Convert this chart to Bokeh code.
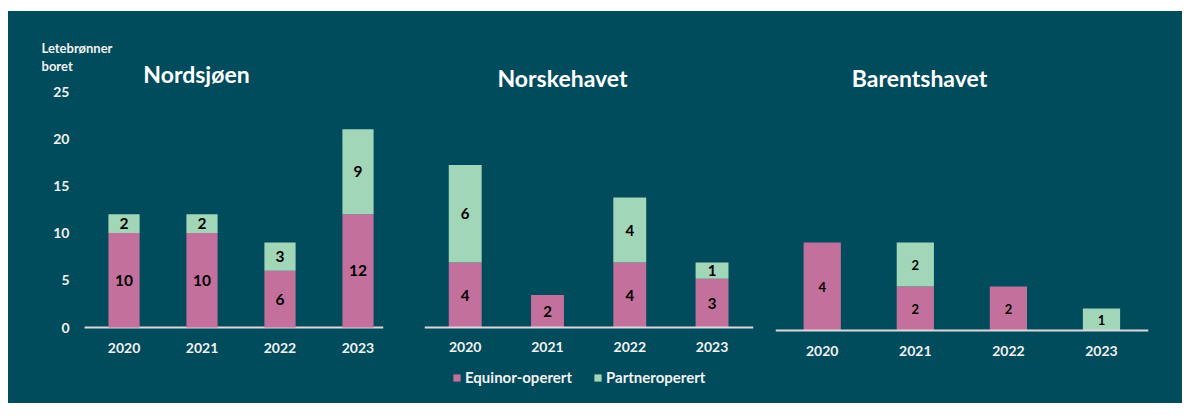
from bokeh.plotting import figure
from bokeh.models import Range1d, FixedTicker, Label, Legend, LegendItem, Spacer, ColumnDataSource, Span
from bokeh.layouts import row, column
from bokeh.embed import file_html
from bokeh.resources import INLINE
from bokeh.core.properties import value

# ---------------- data ----------------
years = ["2020", "2021", "2022", "2023"]
nordsjoen_equinor = [10, 10, 6, 12]
nordsjoen_partner = [2, 2, 3, 9]
norskehavet_equinor = [4, 2, 4, 3]
norskehavet_partner = [6, 0, 4, 1]
barentshavet_equinor = [4, 2, 2, 0]
barentshavet_partner = [0, 2, 0, 1]
y_ticks = [0, 5, 10, 15, 20, 25]
titles = ["Nordsjøen", "Norskehavet", "Barentshavet"]
series_names = ["Equinor-operert", "Partneroperert"]
y_title = ["Letebrønner", "boret"]

# ---------------- style ----------------
BG = "#004b5c"
PINK = "#c4709c"
GREEN = "#a2d6b8"
TXT = "#f2f2f2"
AXIS = "#d9d9d9"
FONT = "Lato"

# All frames span page y 11..391 (the row aligns them); baselines sit inside.
H = 392
BOTTOM = 12


def make_panel(title, eq, pa, width, x_range, y_range, left, right,
               label_size, title_xy, x_standoff, baseline_x=None,
               show_y=False, y_standoff=0):
    p = figure(width=width, height=H, output_backend="svg", toolbar_location=None,
               x_range=Range1d(*x_range), y_range=Range1d(*y_range),
               y_axis_location="left" if show_y else None,
               min_border_left=left, min_border_right=right,
               min_border_top=0, min_border_bottom=BOTTOM)
    p.background_fill_color = None
    p.border_fill_color = None
    p.outline_line_color = None
    p.styles = {"background-color": BG}
    p.grid.visible = False

    # baseline at y = 0
    if baseline_x is None:
        p.add_layout(Span(location=0, dimension="width", line_color=AXIS, line_width=2))
    else:
        p.line(x=list(baseline_x), y=[0, 0], line_color=AXIS, line_width=2)

    xs = [i + 1 for i in range(len(years))]
    tops_pa = [e + q for e, q in zip(eq, pa)]
    src = ColumnDataSource(dict(x=xs, eq=eq, pa_top=tops_pa, zero=[0] * len(xs)))
    r_eq = p.vbar(x="x", bottom="zero", top="eq", width=0.4, source=src,
                  fill_color=PINK, line_color=None)
    r_pa = p.vbar(x="x", bottom="eq", top="pa_top", width=0.4, source=src,
                  fill_color=GREEN, line_color=None)

    # value labels inside segments
    lx, ly, lt = [], [], []
    for x, e, q in zip(xs, eq, pa):
        if e > 0:
            lx.append(x); ly.append(e / 2); lt.append(str(e))
        if q > 0:
            lx.append(x); ly.append(e + q / 2); lt.append(str(q))
    p.text(x=lx, y=ly, text=lt, text_align="center", text_baseline="middle",
           text_font=value(FONT), text_font_style="bold",
           text_font_size=label_size, text_color="#000000")

    # x axis: labels pulled up under the baseline
    xa = p.xaxis[0]
    xa.ticker = FixedTicker(ticks=xs)
    xa.major_label_overrides = {x: y for x, y in zip(xs, years)}
    xa.axis_line_color = None
    xa.major_tick_line_color = None
    xa.major_tick_out = 0
    xa.major_tick_in = 0
    xa.minor_tick_line_color = None
    xa.major_label_standoff = x_standoff
    xa.major_label_text_font = FONT
    xa.major_label_text_font_style = "bold"
    xa.major_label_text_font_size = "14px"
    xa.major_label_text_color = TXT
    xa.axis_label = " "
    xa.axis_label_standoff = -25 - x_standoff

    if show_y:
        ya = p.yaxis[0]
        ya.ticker = FixedTicker(ticks=y_ticks)
        ya.axis_line_color = None
        ya.major_tick_line_color = None
        ya.major_tick_out = 0
        ya.major_tick_in = 0
        ya.minor_tick_line_color = None
        ya.major_label_standoff = y_standoff
        ya.major_label_text_font = FONT
        ya.major_label_text_font_style = "bold"
        ya.major_label_text_font_size = "14px"
        ya.major_label_text_color = TXT
        ya.axis_label = " "
        ya.axis_label_standoff = 20

    p.add_layout(Label(x=title_xy[0], y=title_xy[1], x_units="screen", y_units="screen",
                       text=title, text_align="center", text_baseline="middle",
                       text_font=FONT, text_font_style="bold", text_font_size="23px",
                       text_color="#ffffff"))
    return p, r_eq, r_pa


# Nordsjøen: frame x 30..383; baseline y 327; 78 px per category, 9.44 px per well
p1, _, _ = make_panel(titles[0], nordsjoen_equinor, nordsjoen_partner, 407,
                      (-0.199, 4.327), (-64 / 9.44, 316 / 9.44), 22, 32, "15.5px", (166, 318),
                      x_standoff=-49, baseline_x=(0.494, 4.327),
                      show_y=True, y_standoff=-39)
for i, t in enumerate(y_title):
    p1.add_layout(Label(x=11, y=344 - 18 * i, x_units="screen", y_units="screen",
                        text=t, text_align="left", text_baseline="middle",
                        text_font=FONT, text_font_style="bold", text_font_size="13px",
                        text_color=TXT))

# Norskehavet: frame x 424..753; baseline y 327; 16.25 px per well
p2, r_eq, r_pa = make_panel(titles[1], norskehavet_equinor, norskehavet_partner, 350,
                            (0.505, 4.504), (-64 / 16.25, 316 / 16.25), 9, 12,
                            "15px", (138, 314), x_standoff=-50)
legend = Legend(items=[LegendItem(label=series_names[0], renderers=[r_eq]),
                       LegendItem(label=series_names[1], renderers=[r_pa])],
                location=(28, 5), orientation="horizontal", padding=0, margin=0,
                spacing=21, glyph_width=9, glyph_height=9, label_height=9,
                label_standoff=4, background_fill_alpha=0, border_line_color=None,
                label_text_font=FONT, label_text_font_style="bold",
                label_text_font_size="15px", label_text_color=TXT)
p2.add_layout(legend)

# Barentshavet: frame x 775..1148; baseline y 330; 22 px per well
p3, _, _ = make_panel(titles[2], barentshavet_equinor, barentshavet_partner, 417,
                      (0.498, 4.505), (-61 / 22, 319 / 22), 10, 34, "13px", (144, 314),
                      x_standoff=-46)

layout = column(Spacer(width=1182, height=11),
                row(Spacer(width=8, height=H), p1, p2, p3, spacing=0), spacing=0)

open("out.html", "w").write(file_html(layout, INLINE))
